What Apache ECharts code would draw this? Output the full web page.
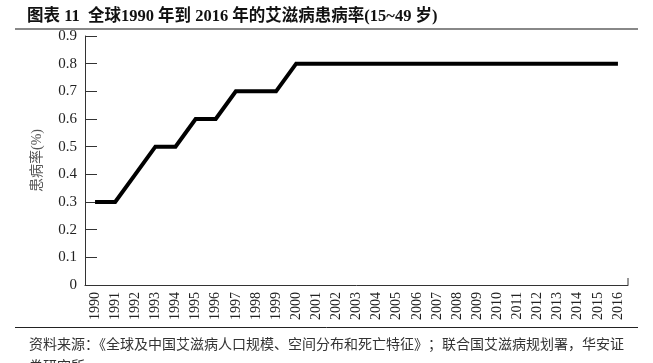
<!DOCTYPE html>
<html><head><meta charset="utf-8">
<script src="https://cdn.jsdelivr.net/npm/echarts@6/dist/echarts.min.js"></script>
<style>html,body{margin:0;padding:0;background:#fff}#c{width:653px;height:363px}</style>
</head><body><div id="c"></div>
<script>
const years = ['1990','1991','1992','1993','1994','1995','1996','1997','1998','1999','2000','2001','2002','2003','2004','2005','2006','2007','2008','2009','2010','2011','2012','2013','2014','2015','2016'];
const prevalence = [0.3,0.3,0.4,0.5,0.5,0.6,0.6,0.7,0.7,0.7,0.8,0.8,0.8,0.8,0.8,0.8,0.8,0.8,0.8,0.8,0.8,0.8,0.8,0.8,0.8,0.8,0.8];
const titleText = '图表 11  全球1990 年到 2016 年的艾滋病患病率(15~49 岁)';
const yName = '患病率(%)';
const sourceText = '资料来源：《全球及中国艾滋病人口规模、空间分布和死亡特征》；联合国艾滋病规划署，华安证';
const sourceText2 = '券研究所';

const serif = '"Liberation Serif","DejaVu Serif",serif';
const cjk = '"Liberation Serif","Noto Sans CJK SC",serif';
const chart = echarts.init(document.getElementById('c'));
chart.setOption({
  animation: false,
  title: [
    {text: titleText, left: 22, top: 3, textStyle: {fontSize: 16.5, fontWeight: 'bold', color: '#111', fontFamily: cjk}},
    {text: sourceText, left: 24, top: 333, textStyle: {fontSize: 14, fontWeight: 'normal', color: '#333', fontFamily: cjk}},
    {text: sourceText2, left: 24, top: 355, textStyle: {fontSize: 14, fontWeight: 'normal', color: '#333', fontFamily: cjk}}
  ],
  graphic: [
    {type: 'line', shape: {x1: 15, y1: 29, x2: 638, y2: 29}, style: {stroke: '#888', lineWidth: 2}},
    {type: 'line', shape: {x1: 15, y1: 327.5, x2: 638, y2: 327.5}, style: {stroke: '#222', lineWidth: 1}},
    {type: 'line', shape: {x1: 628, y1: 278, x2: 628, y2: 285}, style: {stroke: '#333', lineWidth: 1}}
  ],
  grid: {left: 85, right: 25, top: 36, bottom: 78},
  xAxis: {
    type: 'category', data: years, boundaryGap: true,
    axisLine: {lineStyle: {color: '#333', width: 1}},
    axisTick: {show: false},
    axisLabel: {rotate: 90, margin: 7, fontSize: 14, color: '#222', fontFamily: serif, interval: 0}
  },
  yAxis: {
    type: 'value', min: 0, max: 0.9, interval: 0.1,
    name: yName, nameLocation: 'middle', nameGap: 41, nameRotate: 90,
    nameTextStyle: {fontSize: 14, color: '#555', fontFamily: cjk},
    splitLine: {show: false},
    axisLine: {show: true, lineStyle: {color: '#333', width: 1}},
    axisTick: {show: true, inside: true, length: 12, lineStyle: {color: '#333'}},
    axisLabel: {margin: 8, fontSize: 15, color: '#222', fontFamily: serif,
      formatter: function (v) { return v === 0 ? '0' : v.toFixed(1); }}
  },
  series: [{type: 'line', data: prevalence, symbol: 'none', lineStyle: {color: '#000', width: 4, join: 'miter'}}]
});
</script></body></html>
